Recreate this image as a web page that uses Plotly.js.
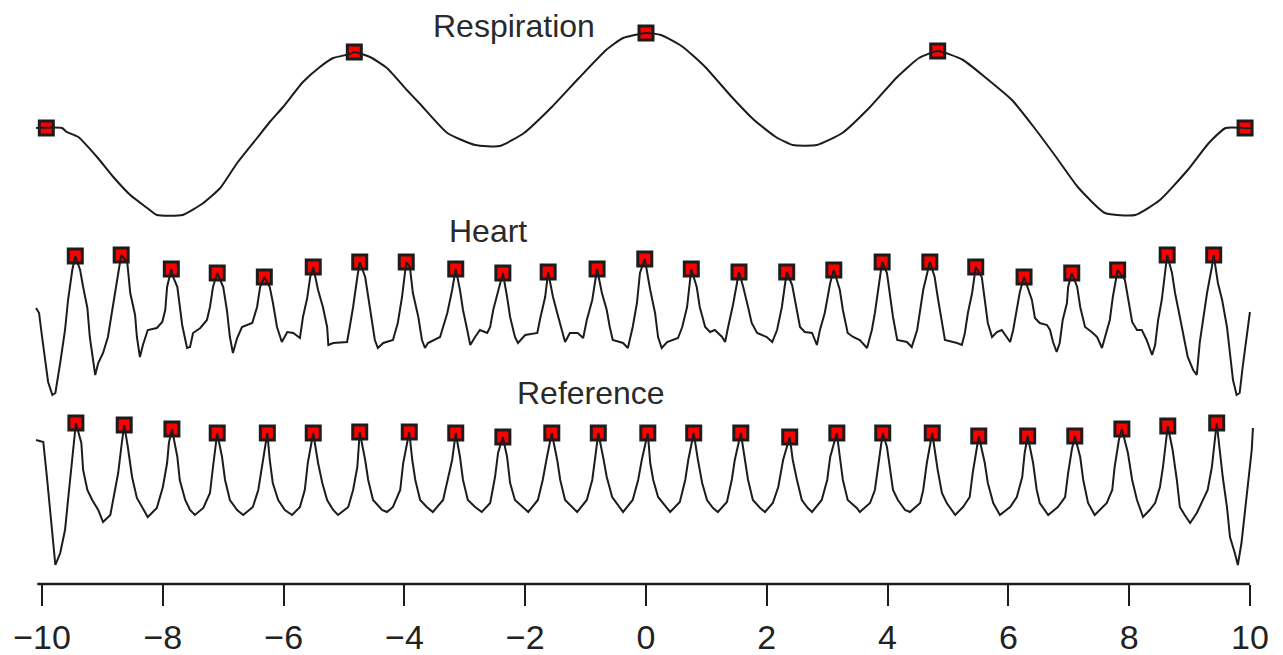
<!DOCTYPE html>
<html>
<head>
<meta charset="utf-8">
<script src="https://cdn.plot.ly/plotly-3.0.1.min.js"></script>
<style>html,body{margin:0;padding:0;background:#fff;}#chart{width:1283px;height:655px;}</style>
</head>
<body>
<div id="chart"></div>
<script>
// ---------- data (time in s, amplitudes in arbitrary units) ----------
const tickValues = [-10, -8, -6, -4, -2, 0, 2, 4, 6, 8, 10];
const seriesNames = ["Respiration", "Heart", "Reference"];

const respTime = [-10.10,-9.67,-9.59,-9.40,-9.09,-8.82,-8.54,-8.26,-8.10,-7.67,-7.33,-7.05,-6.77,-6.44,-6.23,-6.01,-5.68,-5.40,-5.18,-4.90,-4.83,-4.57,-4.29,-3.96,-3.74,-3.29,-2.83,-2.42,-2.02,-1.56,-1.11,-0.66,-0.38,0.00,0.25,0.61,0.98,1.42,1.79,2.15,2.43,2.83,3.25,3.71,4.16,4.52,4.83,5.25,5.61,6.06,6.42,6.79,7.15,7.60,8.10,8.51,8.97,9.32,9.60,9.92,10.05];
const respValue = [0,0,-4,-9,-29,-49,-67,-80,-87,-87,-75,-60,-35,-10,6,21,46,61,70,74,76,71,60,38,24,-5,-17,-18,-5,21,50,78,90,95,93,81,61,31,8,-9,-17,-17,-5,21,51,70,77,68,51,28,1,-29,-59,-85,-87,-72,-42,-15,0,0,0];
const respPeakTime = [-9.93,-4.83,0.00,4.83,9.92];
const respPeakValue = [0,76,95,77,0];

const heartTime = [
 -10.10,-10.05,-10.00,-9.95,-9.90,-9.83,-9.78,-9.70,-9.62,-9.57,-9.50,-9.45,-9.37,-9.32,-9.25,-9.21,-9.16,-9.12,
 -9.07,-8.99,-8.91,-8.82,-8.76,-8.69,-8.59,-8.54,-8.46,-8.43,-8.38,
 -8.33,-8.25,-8.10,-8.01,-7.96,-7.93,-7.86,-7.83,-7.76,-7.68,-7.60,
 -7.55,-7.50,-7.38,-7.27,-7.22,-7.17,-7.10,-7.00,-6.94,-6.89,-6.84,
 -6.77,-6.69,-6.52,-6.44,-6.39,-6.32,-6.23,-6.18,-6.11,-6.03,
 -5.94,-5.84,-5.73,-5.68,-5.61,-5.56,-5.51,-5.43,-5.35,-5.28,-5.26,
 -5.18,-4.95,-4.90,-4.85,-4.78,-4.74,-4.65,-4.60,-4.54,-4.49,-4.44,
 -4.35,-4.19,-4.11,-4.04,-3.97,-3.91,-3.86,-3.77,-3.71,-3.66,
 -3.61,-3.41,-3.36,-3.29,-3.21,-3.15,-3.08,-3.03,-2.96,-2.91,
 -2.83,-2.75,-2.63,-2.58,-2.53,-2.45,-2.37,-2.30,-2.25,-2.17,-2.12,
 -2.00,-1.80,-1.75,-1.67,-1.62,-1.54,-1.47,-1.39,-1.34,
 -1.26,-1.13,-1.04,-0.98,-0.89,-0.81,-0.73,-0.65,-0.60,-0.55,-0.38,-0.30,
 -0.22,-0.15,-0.10,-0.02,0.07,0.15,0.20,0.26,
 0.35,0.53,0.60,0.68,0.75,0.84,0.89,0.98,1.06,1.14,1.26,1.31,
 1.36,1.44,1.54,1.61,1.69,1.75,1.84,2.00,2.09,
 2.17,2.25,2.33,2.42,2.50,2.55,2.63,2.75,2.83,
 2.88,2.96,3.05,3.11,3.21,3.26,3.34,3.43,3.54,3.66,
 3.74,3.79,3.84,3.91,3.99,4.04,4.09,4.16,4.32,4.40,
 4.49,4.54,4.59,4.70,4.78,4.83,4.90,4.95,5.15,5.23,
 5.28,5.33,5.40,5.46,5.56,5.61,5.66,5.73,5.81,5.89,5.98,6.03,
 6.08,6.14,6.19,6.26,6.32,6.39,6.44,6.52,6.64,6.69,6.74,6.80,
 6.85,6.90,6.97,6.99,7.05,7.14,7.19,7.27,7.38,7.47,7.55,
 7.63,7.68,7.73,7.81,7.93,7.98,8.05,8.13,8.21,8.29,8.38,
 8.43,8.48,8.54,8.59,8.63,8.71,8.76,8.84,8.89,8.97,9.06,9.12,
 9.17,9.22,9.29,9.37,9.40,9.47,9.54,9.62,9.67,9.72,9.78,9.83,9.88,9.95,10.00];
const heartValue = [
 32,27,3,-22,-42,-55,-53,-23,10,40,70,84,70,53,32,3,-18,-35,
 -23,-13,3,37,63,85,78,47,25,3,-17,
 -5,10,12,18,30,53,71,63,53,15,-8,
 -7,7,12,20,33,53,67,53,30,3,-13,
 2,13,17,33,53,63,53,38,13,-2,
 8,7,2,23,42,63,73,50,33,13,-5,
 -3,-2,15,33,63,78,63,43,23,0,-8,
 -3,0,17,43,78,73,47,23,0,-8,
 -3,3,13,27,50,71,50,30,10,-5,
 3,10,7,13,30,50,67,43,23,3,-3,
 5,7,22,43,68,43,27,10,-2,
 7,7,2,20,40,71,47,30,13,0,-3,-8,
 13,37,67,81,50,27,3,-8,
 -2,2,13,33,71,53,33,13,8,10,3,-2,
 13,35,68,53,33,17,7,3,-2,
 10,33,68,55,30,13,8,7,-5,
 10,27,57,70,50,30,7,3,0,-8,
 10,27,50,78,67,43,23,0,-2,-7,
 10,30,50,78,63,43,20,0,-3,-5,
 7,27,47,73,63,37,17,3,8,10,3,-2,
 10,30,48,63,53,40,22,17,15,10,-2,-12,
 -3,20,37,53,67,53,33,13,8,3,-8,
 10,20,43,70,60,43,18,10,10,0,-15,
 -5,20,40,63,85,67,47,23,7,-17,-30,-35,
 -2,20,47,73,85,57,40,13,-13,-40,-55,-53,-27,3,28];
const heartPeakTime = [-9.45,-8.69,-7.86,-7.10,-6.32,-5.51,-4.74,-3.97,-3.15,-2.37,-1.62,-0.81,-0.02,0.75,1.54,2.33,3.11,3.91,4.70,5.46,6.26,7.05,7.81,8.63,9.40];
const heartPeakValue = [84,85,71,67,63,73,78,78,71,67,68,71,81,71,68,68,70,78,78,73,63,67,70,85,85];

const refTime = [
 -10.10,-9.98,-9.92,-9.87,-9.82,-9.78,-9.70,-9.62,-9.57,-9.50,-9.44,-9.35,-9.32,-9.25,-9.17,-9.07,-8.99,
 -8.87,-8.82,-8.74,-8.68,-8.64,-8.58,-8.51,-8.43,-8.33,-8.25,
 -8.10,-8.00,-7.93,-7.90,-7.85,-7.76,-7.72,-7.63,-7.55,-7.47,
 -7.33,-7.22,-7.17,-7.10,-7.02,-6.97,-6.89,-6.77,-6.67,
 -6.51,-6.42,-6.36,-6.27,-6.23,-6.18,-6.09,-5.98,-5.86,
 -5.73,-5.65,-5.60,-5.51,-5.43,-5.36,-5.28,-5.18,-5.10,
 -4.93,-4.85,-4.78,-4.74,-4.65,-4.60,-4.52,-4.37,-4.29,
 -4.19,-4.07,-4.02,-3.92,-3.87,-3.82,-3.74,-3.63,-3.53,
 -3.36,-3.28,-3.21,-3.15,-3.08,-3.03,-2.95,-2.83,-2.72,
 -2.58,-2.50,-2.45,-2.37,-2.30,-2.25,-2.17,-2.04,-1.95,
 -1.79,-1.71,-1.64,-1.56,-1.47,-1.42,-1.34,-1.23,-1.14,
 -0.98,-0.89,-0.84,-0.79,-0.71,-0.65,-0.56,-0.43,-0.38,
 -0.22,-0.13,-0.07,0.03,0.07,0.12,0.20,0.35,0.40,
 0.56,0.65,0.70,0.79,0.86,0.93,1.01,1.11,1.19,
 1.34,1.42,1.47,1.57,1.64,1.69,1.77,1.89,1.97,
 2.10,2.19,2.27,2.38,2.43,2.50,2.58,2.68,2.75,
 2.91,3.00,3.05,3.16,3.21,3.26,3.34,3.49,3.54,
 3.71,3.79,3.84,3.92,3.99,4.04,4.09,4.17,4.29,4.37,
 4.54,4.59,4.65,4.74,4.83,4.90,4.98,5.12,
 5.25,5.36,5.41,5.51,5.61,5.66,5.75,5.86,
 6.03,6.14,6.23,6.27,6.32,6.41,6.47,6.52,6.66,
 6.82,6.94,6.99,7.05,7.10,7.19,7.24,7.32,7.43,
 7.63,7.72,7.76,7.83,7.88,7.98,8.05,8.13,8.23,
 8.34,8.43,8.51,8.56,8.64,8.72,8.79,8.84,8.92,9.01,
 9.12,9.22,9.30,9.37,9.45,9.50,9.55,9.62,9.67,9.75,9.80,9.86,9.92,9.97,10.03,10.05];
const refValue = [
 70,68,33,0,-33,-55,-43,-20,10,53,87,67,40,20,10,0,-12,
 -5,10,37,67,85,63,33,12,2,-7,
 2,23,47,67,81,53,30,10,0,-5,
 2,17,43,77,53,30,10,0,-5,
 3,20,43,77,50,27,10,0,-5,
 3,20,47,77,47,27,10,0,-5,
 3,20,43,78,50,30,10,0,-2,
 3,20,47,78,50,30,10,3,-2,
 10,30,50,77,53,30,10,3,-2,
 7,33,57,73,53,27,10,3,-2,
 10,30,53,77,50,30,10,3,-2,
 10,30,53,77,53,33,13,2,-2,
 10,30,50,77,47,30,13,2,-2,
 8,30,50,77,50,27,10,2,-2,
 8,30,50,77,50,30,10,2,-2,
 7,23,50,73,50,30,10,2,-2,
 10,30,53,77,53,30,10,2,-2,
 7,20,43,77,63,43,20,10,0,-2,
 7,20,47,77,40,17,7,-5,
 3,13,37,74,47,27,7,-5,
 3,13,33,57,74,47,20,7,-5,
 3,13,37,60,74,53,30,7,-5,
 7,20,43,70,81,57,30,10,-7,
 0,7,23,43,84,60,30,3,-5,-13,
 -3,10,20,43,87,60,33,3,-27,-43,-55,-33,0,23,60,82];
const refPeakTime = [-9.44,-8.64,-7.85,-7.10,-6.27,-5.51,-4.74,-3.92,-3.15,-2.37,-1.56,-0.79,0.03,0.79,1.57,2.38,3.16,3.92,4.74,5.51,6.32,7.10,7.88,8.64,9.45];
const refPeakValue = [87,85,81,77,77,77,78,78,77,73,77,77,77,77,77,73,77,77,77,74,74,74,81,84,87];

// ---------- styling ----------
const INK = '#1c1c1c';
const lineStyle = {color: INK, width: 2};
const peakMarker = {symbol: 'square', size: 14, color: '#ff0000', line: {color: INK, width: 3}};

function peaks(t, v, ax) {
  return {x: t, y: v, yaxis: ax, type: 'scatter', mode: 'markers', marker: peakMarker, hoverinfo: 'x+y', cliponaxis: false};
}
function signal(t, v, ax, shape) {
  return {x: t, y: v, yaxis: ax, type: 'scatter', mode: 'lines', line: Object.assign({shape: shape, smoothing: 0.5}, lineStyle), hoverinfo: 'x+y'};
}

const data = [
  peaks(respPeakTime, respPeakValue, 'y'),
  signal(respTime, respValue, 'y', 'spline'),
  peaks(heartPeakTime, heartPeakValue, 'y2'),
  signal(heartTime, heartValue, 'y2', 'linear'),
  peaks(refPeakTime, refPeakValue, 'y3'),
  signal(refTime, refValue, 'y3', 'linear')
];

const titleFont = {family: 'Liberation Sans, Arial, sans-serif', size: 32, color: '#2a2a2a'};
const hidden = {visible: false, fixedrange: true, showgrid: false, zeroline: false};

const layout = {
  width: 1283, height: 655,
  margin: {l: 30, r: 21, t: 0, b: 71, pad: 0},
  paper_bgcolor: '#ffffff', plot_bgcolor: '#ffffff',
  showlegend: false,
  xaxis: {
    range: [-10.2, 10.2], fixedrange: true,
    tickmode: 'array', tickvals: tickValues,
    ticks: 'outside', ticklen: 21, tickwidth: 2, tickcolor: INK,
    showline: false, showgrid: false, zeroline: false,
    ticklabelstandoff: 2,
    tickfont: {family: 'Liberation Sans, Arial, sans-serif', size: 34, color: '#222'}
  },
  yaxis: Object.assign({range: [-456, 128]}, hidden),
  yaxis2: Object.assign({range: [-244, 340], overlaying: 'y'}, hidden),
  yaxis3: Object.assign({range: [-74, 510], overlaying: 'y'}, hidden),
  shapes: [{type: 'line', xref: 'x', yref: 'paper', x0: -10.08, x1: 10, y0: 0, y1: 0, line: {color: INK, width: 2.5}}],
  annotations: [
    {text: seriesNames[0], xref: 'x', yref: 'paper', x: -2.19, y: 0.9555, xanchor: 'center', yanchor: 'middle', showarrow: false, font: titleFont},
    {text: seriesNames[1], xref: 'x', yref: 'paper', x: -2.62, y: 0.6045, xanchor: 'center', yanchor: 'middle', showarrow: false, font: titleFont},
    {text: seriesNames[2], xref: 'x', yref: 'paper', x: -0.91, y: 0.327, xanchor: 'center', yanchor: 'middle', showarrow: false, font: titleFont}
  ]
};

Plotly.newPlot('chart', data, layout, {displayModeBar: false, staticPlot: true});
</script>
</body>
</html>
